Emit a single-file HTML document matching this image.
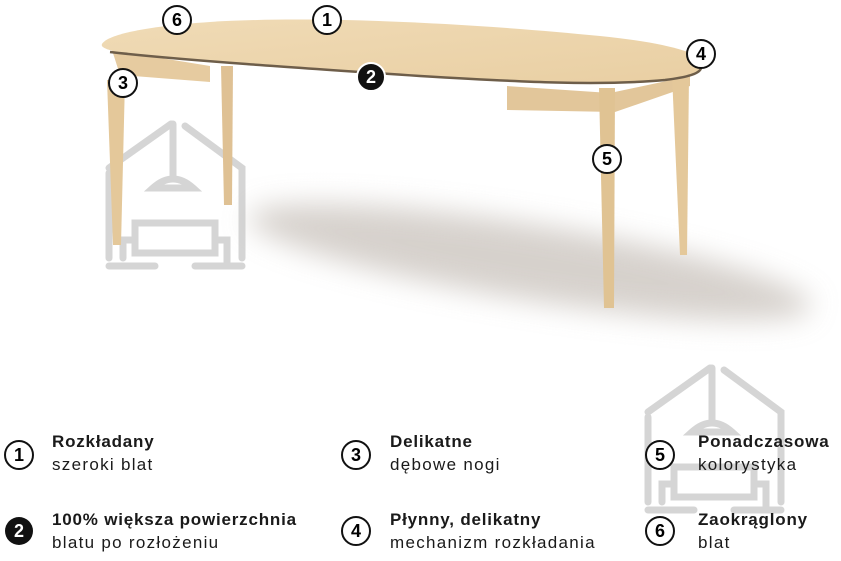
<!DOCTYPE html>
<html><head><meta charset="utf-8"><style>
body{margin:0;background:#fff;width:841px;height:561px;overflow:hidden;position:relative;font-family:"Liberation Sans",sans-serif}
.t{position:absolute;color:#1a1a1a;font-size:17px;line-height:23px;letter-spacing:1.3px}
.t b{display:block;font-weight:bold;letter-spacing:0.8px}
</style></head><body>
<svg width="841" height="561" style="position:absolute;left:0;top:0">
<defs>
<filter id="bl" x="-50%" y="-50%" width="200%" height="200%"><feGaussianBlur stdDeviation="14"/></filter>
<linearGradient id="wood" x1="0" y1="0" x2="1" y2="1"><stop offset="0" stop-color="#f0dbb6"/><stop offset="1" stop-color="#e9cfa3"/></linearGradient>
<g id="wm" fill="none" stroke="#c4c4c4" stroke-width="7" stroke-linecap="round" opacity="0.7">
<path d="M-66 55 L-66 140 M-4 6 L-66 50 M10 8 L67 50 L67 140"/>
<path d="M-2 6 L-2 60 M-22 70 Q-2 52 18 70 Z"/>
<path d="M-40 120 L-40 105 L40 105 L40 120 M-52 140 L-52 122 L-40 122 L-40 135 L40 135 L40 122 L52 122 L52 145 M-66 148 L-20 148 M20 148 L67 148"/>
</g>
</defs>
<ellipse cx="530" cy="262" rx="285" ry="38" transform="rotate(9 530 262)" fill="#c9c2bc" opacity="0.75" filter="url(#bl)"/>
<use href="#wm" x="175" y="118"/>
<use href="#wm" x="714" y="362"/>
<!-- legs and aprons -->
<polygon points="112,50 210,66 210,82 120,75" fill="#e6cba0"/>
<polygon points="507,86 610,93 690,76 690,86 615,112 507,110" fill="#e2c69a"/>
<polygon points="107,80 125,80 121,245 113,245" fill="#e4c89a"/>
<polygon points="221,66 233,66 232,205 224,205" fill="#dfc194"/>
<polygon points="599,88 615,88 614,308 604,308" fill="#e0c393"/>
<polygon points="672,75 689,75 687,255 680,255" fill="#e4c89a"/>
<!-- top -->
<path d="M102,44 C108,34 150,26 210,22 C320,15 480,24 600,36 C660,42 700,52 702,62 C704,72 690,77 665,80 C600,86 520,82 420,76 C300,68 180,60 130,54 C110,51 100,48 102,44 Z" fill="url(#wood)"/>
<path d="M110,52 C180,60 300,68 420,76 C520,82 600,86 665,80 C690,77 700,73 701,68" fill="none" stroke="#6e5e4a" stroke-width="2.5"/>
<g font-family="Liberation Sans,sans-serif" font-weight="bold" font-size="18" text-anchor="middle">
<g fill="#fff" stroke="#111" stroke-width="2">
<circle cx="177" cy="20" r="14"/><circle cx="327" cy="20" r="14"/><circle cx="123" cy="83" r="14"/><circle cx="701" cy="54" r="14"/><circle cx="607" cy="159" r="14"/></g>
<circle cx="371" cy="77" r="14" fill="#111" stroke="#fff" stroke-width="2"/>
<text x="177" y="26">6</text><text x="327" y="26">1</text><text x="123" y="89">3</text><text x="701" y="60">4</text><text x="607" y="165">5</text><text x="371" y="83" fill="#fff">2</text>
<g fill="#fff" stroke="#111" stroke-width="2">
<circle cx="19" cy="455" r="14"/><circle cx="356" cy="455" r="14"/><circle cx="660" cy="455" r="14"/><circle cx="356" cy="531" r="14"/><circle cx="660" cy="531" r="14"/></g>
<circle cx="19" cy="531" r="14" fill="#111"/>
<text x="19" y="461">1</text><text x="356" y="461">3</text><text x="660" y="461">5</text><text x="356" y="537">4</text><text x="660" y="537">6</text><text x="19" y="537" fill="#fff">2</text>
</g>
</svg>
<div class="t" style="left:52px;top:430px"><b>Rozkładany</b>szeroki blat</div>
<div class="t" style="left:390px;top:430px"><b>Delikatne</b>dębowe nogi</div>
<div class="t" style="left:698px;top:430px"><b>Ponadczasowa</b>kolorystyka</div>
<div class="t" style="left:52px;top:508px"><b>100% większa powierzchnia</b>blatu po rozłożeniu</div>
<div class="t" style="left:390px;top:508px"><b>Płynny, delikatny</b>mechanizm rozkładania</div>
<div class="t" style="left:698px;top:508px"><b>Zaokrąglony</b>blat</div>
</body></html>
